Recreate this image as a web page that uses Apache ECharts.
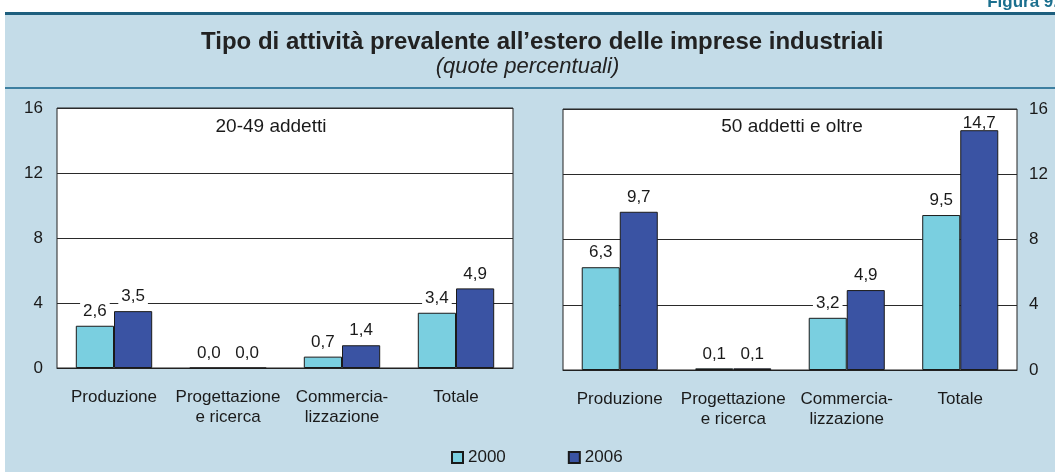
<!DOCTYPE html>
<html lang="it">
<head>
<meta charset="UTF-8">
<title>Figura 9</title>
<style>
  html, body { margin: 0; padding: 0; background: #fff; }
  #main { width: 1055px; height: 472px; }
</style>
</head>
<body>
<div id="main"></div>
<script src="https://cdn.jsdelivr.net/npm/echarts@6/dist/echarts.min.js"></script>
<script>
  const categories = ['Produzione', 'Progettazione\ne ricerca', 'Commercia-\nlizzazione', 'Totale'];
  const years = ['2000', '2006'];
  // 20-49 addetti
  const small2000 = [2.6, 0.0, 0.7, 3.4];
  const small2006 = [3.5, 0.0, 1.4, 4.9];
  // 50 addetti e oltre
  const big2000 = [6.3, 0.1, 3.2, 9.5];
  const big2006 = [9.7, 0.1, 4.9, 14.7];
  const yTicks = [0, 4, 8, 12, 16];

  const font = 'Liberation Sans, Arial, sans-serif';
  const col2000 = '#7acfe0';
  const col2006 = '#3a53a3';

  let myChart = echarts.init(document.getElementById('main'));

  function valLabel() {
    return {
      show: true,
      position: 'top',
      distance: 6,
      color: '#1a1a1a',
      fontFamily: font,
      fontSize: 17,
      backgroundColor: '#fff',
      padding: [0, 3],
      formatter: p => p.value.toFixed(1).replace('.', ',')
    };
  }

  // labels of the tallest bars sit right on the bar, as in the original
  function withLabels(arr) {
    return arr.map(v => v > 14
      ? { value: v, label: { distance: -2, padding: 0, backgroundColor: 'transparent' } }
      : v);
  }

  function barSeries(name, data, color, idx) {
    return {
      name: name,
      type: 'bar',
      xAxisIndex: idx,
      yAxisIndex: idx,
      data: withLabels(data),
      barGap: '0%',
      barCategoryGap: '33%',
      itemStyle: { color: color, borderColor: '#1a1a1a', borderWidth: 1 },
      label: valLabel()
    };
  }

  function xAxis(idx) {
    return {
      type: 'category',
      gridIndex: idx,
      data: categories,
      axisLine: { lineStyle: { color: '#222' } },
      axisTick: { inside: true, length: 5, lineStyle: { color: '#222' } },
      axisLabel: { color: '#1a1a1a', fontFamily: font, fontSize: 17, margin: 19, lineHeight: 20, interval: 0 }
    };
  }

  function yAxis(idx, pos) {
    return {
      type: 'value',
      gridIndex: idx,
      position: pos,
      min: yTicks[0],
      max: yTicks[yTicks.length - 1],
      interval: 4,
      axisLine: { show: false },
      axisTick: { show: false },
      axisLabel: { color: '#1a1a1a', fontFamily: font, fontSize: 17, margin: pos === 'left' ? 14 : 12 },
      splitLine: { lineStyle: { color: '#2a2a2a', width: 1 } }
    };
  }

  myChart.setOption({
    animation: false,
    backgroundColor: '#fff',
    graphic: [
      { type: 'rect', z: -10, shape: { x: 5, y: 14, width: 1050, height: 458 }, style: { fill: '#c4dce8' } },
      { type: 'rect', z: -9, shape: { x: 5, y: 12, width: 1050, height: 3 }, style: { fill: '#1e5f7e' } },
      { type: 'rect', z: -9, shape: { x: 5, y: 87, width: 1050, height: 2 }, style: { fill: '#3d7fa0' } },
      { type: 'text', right: -3, top: -6, style: { text: 'Figura 9.', fill: '#1b6f8e', font: 'bold 17px ' + font } },
      { type: 'text', x: 271, y: 127, style: { text: '20-49 addetti', fill: '#1a1a1a', font: '19px ' + font, textAlign: 'center', textVerticalAlign: 'middle' } },
      { type: 'text', x: 792, y: 127, style: { text: '50 addetti e oltre', fill: '#1a1a1a', font: '19px ' + font, textAlign: 'center', textVerticalAlign: 'middle' } }
    ],
    title: [
      {
        text: 'Tipo di attività prevalente all’estero delle imprese industriali',
        left: 201,
        top: 30,
        padding: 0,
        textStyle: { color: '#222', fontFamily: font, fontSize: 24, fontWeight: 'bold' }
      },
      {
        text: '(quote percentuali)',
        left: 'center',
        top: 56,
        padding: 0,
        textStyle: { color: '#222', fontFamily: font, fontSize: 22, fontStyle: 'italic', fontWeight: 'normal' }
      }
    ],
    legend: {
      left: 451,
      top: 449,
      padding: 0,
      itemWidth: 11,
      itemHeight: 11,
      itemGap: 62,
      icon: 'rect',
      data: years,
      textStyle: { color: '#1a1a1a', fontFamily: font, fontSize: 17 }
    },
    grid: [
      { left: 57, top: 108, width: 456, height: 260, show: true, backgroundColor: '#fff', borderColor: '#222', borderWidth: 1 },
      { left: 563, top: 109, width: 454, height: 261, show: true, backgroundColor: '#fff', borderColor: '#222', borderWidth: 1 }
    ],
    xAxis: [xAxis(0), xAxis(1)],
    yAxis: [yAxis(0, 'left'), yAxis(1, 'right')],
    series: [
      barSeries(years[0], small2000, col2000, 0),
      barSeries(years[1], small2006, col2006, 0),
      barSeries(years[0], big2000, col2000, 1),
      barSeries(years[1], big2006, col2006, 1)
    ]
  });
</script>
</body>
</html>
